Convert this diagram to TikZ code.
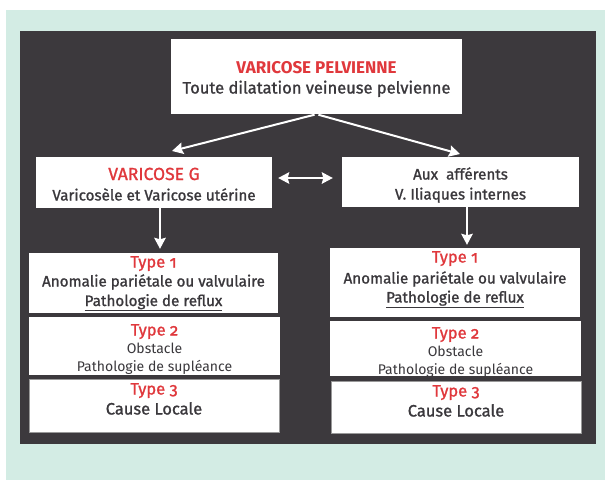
\documentclass[tikz,border=0pt]{standalone}
\usepackage{fontspec}
\setmainfont{Fira Sans}[Numbers=OldStyle]
\newfontfamily\medfont{Fira Sans}[Numbers=OldStyle, FakeBold=1.2]
\usetikzlibrary{arrows.meta}
\definecolor{mint}{HTML}{D3ECE4}
\definecolor{darkbg}{HTML}{3C393D}
\definecolor{redt}{HTML}{E0383C}
\definecolor{txt}{HTML}{3A383C}
\begin{document}
\begin{tikzpicture}[x=1pt,y=-1pt,
  box/.style={fill=white, draw=none, inner sep=0pt},
  box3/.style={box, draw=black!40, line width=0.9pt},
  tl/.style={anchor=base, inner sep=0pt, text=txt, font=\medfont\fontsize{15.2}{17}\selectfont},
  tls/.style={tl, font=\fontsize{14}{16}\selectfont},
  tlr/.style={tl, text=redt, font=\medfont\fontsize{16.5}{18}\selectfont},
  tlbig/.style={tl, font=\medfont\fontsize{16.5}{18}\selectfont},
  arr/.style={draw=white, line width=2pt, -{Stealth[length=11pt,width=11.5pt,inset=1.5pt]}},
  arr2/.style={draw=white, line width=2pt, {Stealth[length=11pt,width=11.5pt,inset=1.5pt]}-{Stealth[length=11pt,width=11.5pt,inset=1.5pt]}}]
\useasboundingbox (0,0) rectangle (605,480);
\fill[white] (0,0) rectangle (605,480);
\fill[mint] (6,10) rectangle (605,480);
\fill[darkbg] (20,31) rectangle (596,444);

% boxes
\node[box, minimum width=291pt, minimum height=75pt] (top) at (316.5,76.5) {};
\node[box, minimum width=236pt, minimum height=51pt] (vg) at (154,182.5) {};
\node[box, minimum width=237pt, minimum height=50pt] (aux) at (460.5,182) {};
\node[box, minimum width=249pt, minimum height=60pt] (l1) at (153.5,283) {};
\node[box, minimum width=250pt, minimum height=69pt] (r1) at (455,282.5) {};
\node[box, minimum width=251pt, minimum height=58pt] (l2) at (154.5,346) {};
\node[box, minimum width=251pt, minimum height=55pt] (r2) at (455.5,348.5) {};
\node[box3, minimum width=250pt, minimum height=53pt] (l3) at (154,405.5) {};
\node[box3, minimum width=250pt, minimum height=52pt] (r3) at (456,407) {};

% texts
\node[tlr, font=\fontsize{17}{19}\selectfont\bfseries] (t1) at (316.5,73) {VARICOSE PELVIENNE};
\node[tl, font=\medfont\fontsize{16.5}{18}\selectfont] (t2) at (316.5,93.5) {Toute dilatation veineuse pelvienne};

\node[tlr, font=\medfont\fontsize{17.5}{19}\selectfont] (vg1) at (154,180) {VARICOSE G};
\node[tl] (vg2) at (154,200.5) {Varicosèle et Varicose utérine};

\node[tl] (aux1) at (460.5,179.5) {Aux\ \ afférents};
\node[tl] (aux2) at (460.5,199.5) {V. Iliaques internes};

\node[tlr] (l1a) at (153.5,267.5) {Type 1};
\node[tl] (l1b) at (153.5,286.5) {Anomalie pariétale ou valvulaire};
\node[tl] (l1c) at (153.5,306) {\underline{Pathologie de reflux}};

\node[tlr] (r1a) at (455,262.5) {Type 1};
\node[tl] (r1b) at (455,283.5) {Anomalie pariétale ou valvulaire};
\node[tl] (r1c) at (455,302.5) {\underline{Pathologie de reflux}};

\node[tlr] (l2a) at (154.5,335.5) {Type 2};
\node[tls] (l2b) at (154.5,353) {Obstacle};
\node[tls] (l2c) at (154.5,371) {\underline{Pathologie de supléance}};

\node[tlr] (r2a) at (455.5,338.5) {Type 2};
\node[tls] (r2b) at (455.5,356) {Obstacle};
\node[tls] (r2c) at (455.5,374) {\underline{Pathologie de supléance}};

\node[tlr] (l3a) at (154,394.5) {Type 3};
\node[tlbig] (l3b) at (154,414.5) {Cause Locale};

\node[tlr] (r3a) at (456,396.5) {Type 3};
\node[tlbig] (r3b) at (456,416.5) {Cause Locale};

% arrows
\coordinate (pL) at (172,151);
\coordinate (pR) at (460,154);
\draw[arr, shorten <=2pt] (top.south) -- (pL);
\draw[arr, shorten <=2pt] (top.south) -- (pR);
\draw[arr2, shorten <=6pt, shorten >=9pt] ([yshift=4.5pt]vg.east) -- ([yshift=4pt]aux.west);
\draw[arr, shorten >=4pt] ([xshift=6pt]vg.south) -- ([xshift=6pt]vg.south |- l1.north);
\draw[arr, shorten >=3pt] ([xshift=6.5pt]aux.south) -- ([xshift=6.5pt]aux.south |- r1.north);
\end{tikzpicture}
\end{document}
